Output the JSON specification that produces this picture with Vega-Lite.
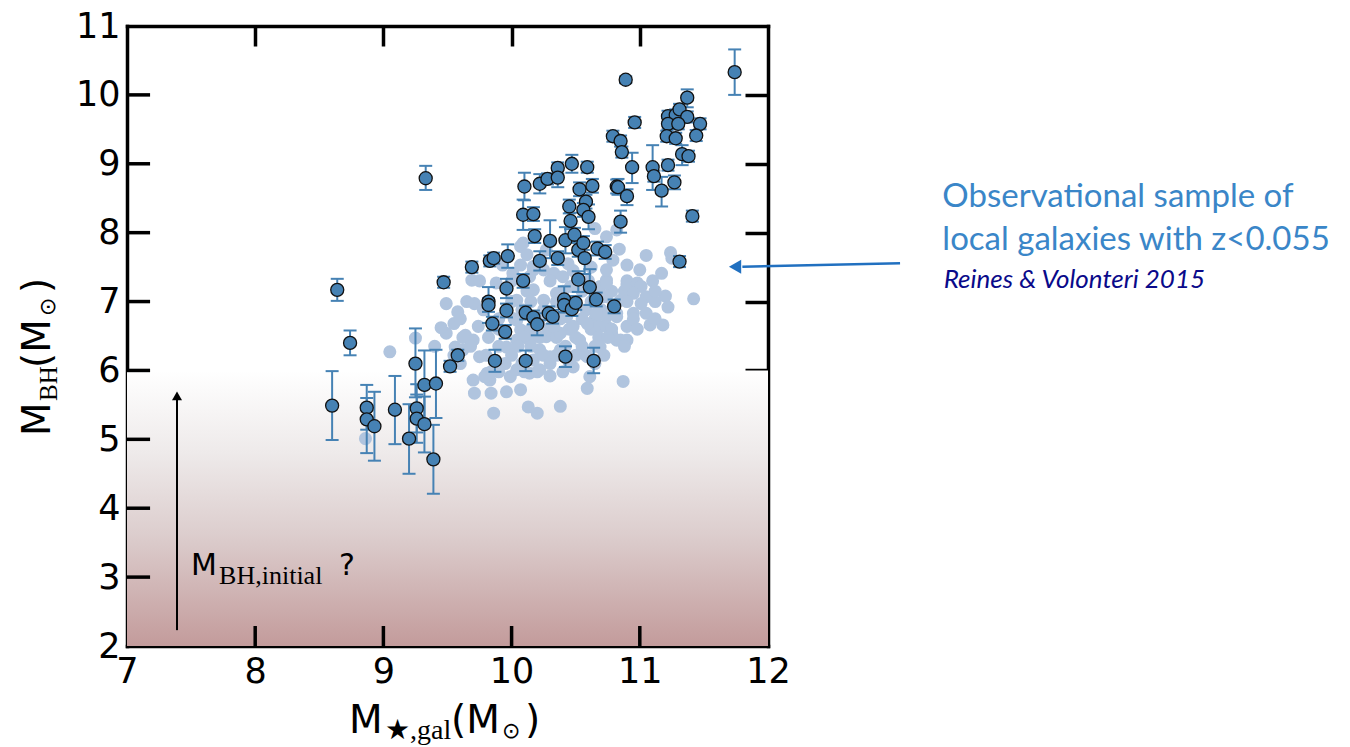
{
"$schema":"https://vega.github.io/schema/vega-lite/v6.json",
"width":641,"height":620,
"autosize":{"type":"none"},
"padding":{"left":127,"top":26,"right":582,"bottom":101},
"background":"white",
"config":{"view":{"stroke":null},"axis":{"grid":false,"title":null,"zindex":1,"domainColor":"black","domainWidth":3.5,"domainCap":"square","tickColor":"black","tickWidth":3.5,"tickOpacity":1,"labelFont":"DejaVu Sans","labelFontSize":35,"labelColor":"black","labelFlush":false,"labelOverlap":false,"format":"d"}},
"datasets":{
"light":[
{"x":9.05,"y":6.27},{"x":9.25,"y":6.47},{"x":8.86,"y":5.01},{"x":9.49,"y":6.97},{"x":9.58,"y":6.85},{"x":9.55,"y":6.68},{"x":9.49,"y":6.54},{"x":9.64,"y":6.51},{"x":9.71,"y":6.97},{"x":9.74,"y":6.64},{"x":9.70,"y":6.44},{"x":9.56,"y":6.34},{"x":9.75,"y":6.20},{"x":9.70,"y":5.86},{"x":9.71,"y":5.67},{"x":9.84,"y":5.67},{"x":9.86,"y":5.38},{"x":9.69,"y":7.31},{"x":9.62,"y":6.30},{"x":9.45,"y":6.62},{"x":9.40,"y":6.35},{"x":9.80,"y":6.22},{"x":9.81,"y":5.96},{"x":9.83,"y":5.86},{"x":9.65,"y":7.00},{"x":9.78,"y":6.88},{"x":9.60,"y":6.75},{"x":9.62,"y":6.48},{"x":9.82,"y":6.48},{"x":9.68,"y":6.35},{"x":9.55,"y":6.22},{"x":9.60,"y":6.10},{"x":9.88,"y":7.27},{"x":9.93,"y":7.53},{"x":9.75,"y":7.30},{"x":9.90,"y":6.60},{"x":9.90,"y":6.35},{"x":9.90,"y":6.75},
{"x":9.96,"y":5.69},{"x":9.99,"y":5.91},{"x":10.07,"y":5.72},{"x":10.13,"y":5.47},{"x":10.20,"y":5.38},{"x":10.22,"y":6.01},{"x":10.14,"y":5.96},{"x":10.04,"y":6.01},{"x":9.96,"y":6.34},{"x":10.04,"y":6.44},{"x":10.07,"y":6.59},{"x":10.17,"y":6.49},{"x":10.27,"y":6.49},{"x":10.22,"y":6.30},{"x":10.30,"y":6.20},{"x":10.17,"y":6.15},{"x":10.25,"y":7.02},{"x":10.17,"y":7.17},{"x":10.04,"y":7.02},{"x":10.04,"y":6.73},{"x":10.09,"y":7.85},{"x":10.07,"y":7.53},{"x":10.17,"y":7.46},{"x":10.07,"y":7.80},{"x":10.12,"y":7.68},{"x":10.17,"y":7.51},{"x":10.01,"y":7.41},{"x":10.14,"y":7.36},{"x":10.27,"y":7.75},{"x":10.25,"y":7.46},{"x":10.00,"y":7.30},{"x":10.12,"y":7.15},{"x":10.00,"y":7.00},{"x":10.15,"y":7.00},{"x":10.08,"y":6.88},{"x":10.25,"y":6.88},{"x":10.02,"y":6.75},{"x":10.22,"y":6.75},{"x":10.15,"y":6.60},{"x":10.28,"y":6.60},{"x":10.10,"y":6.48},{"x":10.22,"y":6.48},{"x":10.05,"y":6.35},{"x":10.15,"y":6.35},{"x":10.00,"y":6.22},{"x":10.25,"y":6.22},{"x":9.95,"y":6.10},{"x":10.08,"y":6.10},{"x":10.30,"y":6.10},{"x":9.90,"y":5.98},{"x":10.10,"y":5.98},{"x":10.20,"y":5.98},{"x":10.30,"y":5.92},{"x":9.84,"y":5.98},{"x":9.79,"y":5.91},
{"x":10.38,"y":5.48},{"x":10.33,"y":7.41},{"x":10.40,"y":7.36},{"x":10.30,"y":7.30},{"x":10.35,"y":7.12},{"x":10.48,"y":7.22},{"x":10.40,"y":7.15},{"x":10.55,"y":7.15},{"x":10.35,"y":7.00},{"x":10.62,"y":7.00},{"x":10.45,"y":6.88},{"x":10.58,"y":6.88},{"x":10.70,"y":6.88},{"x":10.38,"y":6.75},{"x":10.55,"y":6.75},{"x":10.65,"y":6.75},{"x":10.45,"y":6.60},{"x":10.62,"y":6.60},{"x":10.35,"y":6.48},{"x":10.50,"y":6.48},{"x":10.68,"y":6.48},{"x":10.42,"y":6.35},{"x":10.55,"y":6.35},{"x":10.65,"y":6.35},{"x":10.35,"y":6.22},{"x":10.50,"y":6.22},{"x":10.58,"y":6.22},{"x":10.45,"y":6.10},{"x":10.65,"y":6.10},{"x":10.40,"y":5.98},{"x":10.38,"y":6.54},{"x":10.48,"y":6.64},{"x":10.53,"y":6.44},{"x":10.59,"y":6.68},{"x":10.69,"y":6.64},{"x":10.74,"y":6.78},{"x":10.66,"y":6.83},{"x":10.69,"y":6.34},{"x":10.59,"y":6.20},{"x":10.48,"y":6.05},{"x":10.38,"y":6.30},{"x":10.43,"y":6.78},{"x":10.33,"y":6.64},{"x":10.69,"y":7.22},{"x":10.74,"y":7.07},{"x":10.61,"y":5.91},{"x":10.59,"y":5.74},{"x":10.46,"y":7.22},{"x":10.74,"y":7.31},{"x":10.65,"y":8.06},{"x":10.74,"y":7.94},{"x":10.82,"y":8.04},{"x":10.60,"y":7.30},{"x":10.78,"y":7.15},{"x":10.88,"y":7.15},{"x":10.90,"y":7.30},{"x":10.44,"y":7.55},{"x":10.48,"y":7.45},{"x":10.62,"y":7.50},
{"x":10.82,"y":6.44},{"x":10.78,"y":6.54},{"x":10.82,"y":6.78},{"x":10.84,"y":7.76},{"x":11.05,"y":7.67},{"x":11.24,"y":7.71},{"x":11.25,"y":7.63},{"x":11.00,"y":7.46},{"x":11.17,"y":7.41},{"x":10.79,"y":7.60},{"x":10.90,"y":7.53},{"x":10.74,"y":7.46},{"x":10.90,"y":7.24},{"x":10.98,"y":7.27},{"x":11.01,"y":7.22},{"x":11.05,"y":7.07},{"x":10.95,"y":7.12},{"x":11.20,"y":7.08},{"x":11.42,"y":7.04},{"x":11.22,"y":6.92},{"x":11.01,"y":6.97},{"x":11.05,"y":6.83},{"x":10.95,"y":6.83},{"x":11.08,"y":6.66},{"x":11.18,"y":6.66},{"x":10.90,"y":6.64},{"x":10.85,"y":6.44},{"x":10.90,"y":6.44},{"x":10.74,"y":6.64},{"x":10.87,"y":5.84},{"x":10.72,"y":7.07},{"x":10.85,"y":7.02},{"x":10.74,"y":7.27},{"x":10.82,"y":6.83},{"x":10.90,"y":7.00},{"x":11.12,"y":7.00},{"x":10.95,"y":6.75},{"x":11.12,"y":6.75},{"x":10.98,"y":6.60},{"x":10.78,"y":6.60},{"x":10.88,"y":6.35},{"x":10.72,"y":6.22},{"x":10.75,"y":6.48},{"x":11.10,"y":7.30},{"x":11.12,"y":7.15}
],
"dark":[
{"x":8.64,"y":7.17,"lo":7.01,"hi":7.33},{"x":8.74,"y":6.40,"lo":6.22,"hi":6.58},{"x":8.60,"y":5.49,"lo":4.99,"hi":5.99},{"x":8.87,"y":5.46,"lo":5.14,"hi":5.79},{"x":8.87,"y":5.29,"lo":4.80,"hi":5.60},{"x":8.93,"y":5.19,"lo":4.69,"hi":5.69},{"x":9.09,"y":5.43,"lo":4.93,"hi":5.92},{"x":9.20,"y":5.01,"lo":4.50,"hi":5.51},{"x":9.25,"y":6.10,"lo":5.61,"hi":6.61},{"x":9.26,"y":5.45,"lo":5.10,"hi":5.80},{"x":9.26,"y":5.30,"lo":4.95,"hi":5.65},{"x":9.32,"y":5.79,"lo":5.29,"hi":6.29},{"x":9.32,"y":5.22,"lo":4.81,"hi":5.62},{"x":9.41,"y":5.81,"lo":5.31,"hi":6.30},{"x":9.39,"y":4.71,"lo":4.21,"hi":5.21},{"x":9.33,"y":8.79,"lo":8.62,"hi":8.97},{"x":9.47,"y":7.28,"lo":7.20,"hi":7.36},{"x":9.52,"y":6.06,"lo":5.98,"hi":6.14},{"x":9.58,"y":6.22,"lo":6.14,"hi":6.30},
{"x":9.69,"y":7.50,"lo":7.42,"hi":7.58},{"x":9.83,"y":7.59,"lo":7.51,"hi":7.67},{"x":9.86,"y":7.63,"lo":7.55,"hi":7.71},{"x":9.97,"y":7.66,"lo":7.49,"hi":7.83},{"x":9.96,"y":7.19,"lo":7.05,"hi":7.33},{"x":10.09,"y":7.30,"lo":7.20,"hi":7.40},{"x":10.22,"y":7.59,"lo":7.45,"hi":7.73},{"x":10.18,"y":7.95,"lo":7.85,"hi":8.05},{"x":10.10,"y":8.67,"lo":8.47,"hi":8.87},{"x":10.09,"y":8.26,"lo":8.04,"hi":8.48},{"x":10.17,"y":8.27,"lo":8.17,"hi":8.37},{"x":10.22,"y":8.71,"lo":8.57,"hi":8.85},{"x":10.28,"y":8.78,"lo":8.70,"hi":8.86},{"x":10.36,"y":8.94,"lo":8.86,"hi":9.02},{"x":10.36,"y":8.80,"lo":8.66,"hi":8.94},{"x":10.47,"y":9.00,"lo":8.87,"hi":9.13},{"x":10.59,"y":8.95,"lo":8.87,"hi":9.03},{"x":10.30,"y":7.88,"lo":7.63,"hi":8.18},{"x":10.36,"y":7.63,"lo":7.53,"hi":7.73},{"x":10.42,"y":7.89,"lo":7.70,"hi":8.08},{"x":10.45,"y":8.38,"lo":8.28,"hi":8.48},{"x":10.46,"y":8.17,"lo":8.05,"hi":8.29},{"x":10.49,"y":7.97,"lo":7.87,"hi":8.07},{"x":10.53,"y":8.63,"lo":8.53,"hi":8.73},{"x":10.63,"y":8.68,"lo":8.58,"hi":8.78},{"x":10.58,"y":8.45,"lo":8.35,"hi":8.55},{"x":10.56,"y":8.33,"lo":8.23,"hi":8.43},{"x":10.60,"y":8.23,"lo":8.05,"hi":8.41},{"x":10.52,"y":7.75,"lo":7.65,"hi":7.85},{"x":10.56,"y":7.85,"lo":7.75,"hi":7.95},{"x":10.57,"y":7.63,"lo":7.40,"hi":7.86},{"x":10.67,"y":7.77,"lo":7.67,"hi":7.87},{"x":10.73,"y":7.72,"lo":7.62,"hi":7.82},{"x":10.52,"y":7.32,"lo":7.14,"hi":7.44},{"x":10.61,"y":7.21,"lo":6.95,"hi":7.47},{"x":10.82,"y":8.67,"lo":8.57,"hi":8.77},{"x":10.85,"y":8.16,"lo":8.00,"hi":8.32},
{"x":9.82,"y":7.00,"lo":6.69,"hi":7.21},{"x":9.82,"y":6.95,"lo":6.85,"hi":7.05},{"x":9.96,"y":6.87,"lo":6.77,"hi":6.97},{"x":9.85,"y":6.68,"lo":6.58,"hi":6.78},{"x":9.95,"y":6.56,"lo":6.46,"hi":6.66},{"x":10.11,"y":6.84,"lo":6.74,"hi":6.94},{"x":10.17,"y":6.77,"lo":6.67,"hi":6.87},{"x":10.20,"y":6.67,"lo":6.51,"hi":6.83},{"x":10.29,"y":6.83,"lo":6.73,"hi":6.93},{"x":10.32,"y":6.78,"lo":6.68,"hi":6.88},{"x":10.41,"y":7.03,"lo":6.84,"hi":7.22},{"x":10.41,"y":6.95,"lo":6.85,"hi":7.05},{"x":10.47,"y":6.89,"lo":6.79,"hi":6.99},{"x":10.50,"y":6.98,"lo":6.88,"hi":7.08},{"x":10.66,"y":7.03,"lo":6.93,"hi":7.13},{"x":10.80,"y":6.93,"lo":6.83,"hi":7.03},{"x":9.87,"y":6.14,"lo":5.98,"hi":6.30},{"x":10.11,"y":6.14,"lo":5.99,"hi":6.29},{"x":10.42,"y":6.20,"lo":6.05,"hi":6.35},{"x":10.64,"y":6.14,"lo":5.96,"hi":6.33},
{"x":10.89,"y":10.22,"lo":10.17,"hi":10.27},{"x":11.74,"y":10.33,"lo":10.00,"hi":10.66},{"x":11.37,"y":9.96,"lo":9.82,"hi":10.08},{"x":10.96,"y":9.60,"lo":9.52,"hi":9.68},{"x":10.79,"y":9.40,"lo":9.32,"hi":9.48},{"x":10.85,"y":9.33,"lo":9.25,"hi":9.41},{"x":10.86,"y":9.17,"lo":9.09,"hi":9.25},{"x":10.94,"y":8.95,"lo":8.72,"hi":9.16},{"x":10.83,"y":8.66,"lo":8.55,"hi":8.78},{"x":10.90,"y":8.53,"lo":8.40,"hi":8.63},{"x":11.10,"y":8.95,"lo":8.62,"hi":9.27},{"x":11.11,"y":8.82,"lo":8.74,"hi":8.90},{"x":11.17,"y":8.61,"lo":8.38,"hi":8.81},{"x":11.22,"y":8.98,"lo":8.90,"hi":9.06},{"x":11.27,"y":8.73,"lo":8.63,"hi":8.83},{"x":11.41,"y":8.24,"lo":8.16,"hi":8.32},{"x":11.22,"y":9.69,"lo":9.61,"hi":9.77},{"x":11.28,"y":9.71,"lo":9.63,"hi":9.79},{"x":11.31,"y":9.79,"lo":9.71,"hi":9.87},{"x":11.37,"y":9.68,"lo":9.60,"hi":9.76},{"x":11.22,"y":9.58,"lo":9.50,"hi":9.66},{"x":11.30,"y":9.58,"lo":9.50,"hi":9.66},{"x":11.47,"y":9.58,"lo":9.50,"hi":9.66},{"x":11.21,"y":9.40,"lo":9.32,"hi":9.48},{"x":11.28,"y":9.37,"lo":9.29,"hi":9.45},{"x":11.44,"y":9.41,"lo":9.33,"hi":9.49},{"x":11.33,"y":9.14,"lo":8.98,"hi":9.27},{"x":11.38,"y":9.11,"lo":9.03,"hi":9.19},{"x":11.31,"y":7.58,"lo":7.50,"hi":7.66}
]
},
"resolve":{"axis":{"x":"independent","y":"independent"}},
"layer":[
{"layer":[
{"data":{"values":[{}]},"mark":{"type":"rect","fill":{"gradient":"linear","x1":0,"y1":0,"x2":0,"y2":1,"stops":[{"offset":0,"color":"#ffffff"},{"offset":0.3,"color":"#eeeaea"},{"offset":0.6,"color":"#dccdcd"},{"offset":1,"color":"#c39b9b"}]}},
 "encoding":{"x":{"datum":7,"type":"quantitative","scale":{"domain":[7,12],"nice":false,"zero":false},"axis":null},"x2":{"datum":12},"y":{"datum":6,"type":"quantitative","scale":{"domain":[2,11],"nice":false,"zero":false},"axis":null},"y2":{"datum":2}}},
{"data":{"values":[{"t":8},{"t":9},{"t":10},{"t":11}]},"mark":{"type":"rule","color":"black","strokeWidth":3.5},"encoding":{"x":{"field":"t","type":"quantitative","axis":null},"y":{"datum":2,"axis":null},"y2":{"datum":2.29}}},
{"data":{"values":[{"t":3},{"t":4},{"t":5},{"t":6},{"t":7},{"t":8},{"t":9},{"t":10}]},"mark":{"type":"rule","color":"black","strokeWidth":3.5},"encoding":{"y":{"field":"t","type":"quantitative","axis":null},"x":{"datum":7,"axis":null},"x2":{"datum":7.18}}},
{"data":{"name":"light"},"mark":{"type":"point","filled":true,"color":"#b0c4de","size":170,"opacity":1},"encoding":{"x":{"field":"x","type":"quantitative","axis":null},"y":{"field":"y","type":"quantitative","axis":null}}},
{"data":{"name":"dark"},"mark":{"type":"rule","color":"#4682b4","strokeWidth":2},"encoding":{"x":{"field":"x","type":"quantitative","axis":null},"y":{"field":"lo","type":"quantitative","axis":null},"y2":{"field":"hi"}}},
{"data":{"name":"dark"},"mark":{"type":"tick","orient":"horizontal","color":"#4682b4","size":13,"thickness":2,"opacity":1},"encoding":{"x":{"field":"x","type":"quantitative","axis":null},"y":{"field":"lo","type":"quantitative","axis":null}}},
{"data":{"name":"dark"},"mark":{"type":"tick","orient":"horizontal","color":"#4682b4","size":13,"thickness":2,"opacity":1},"encoding":{"x":{"field":"x","type":"quantitative","axis":null},"y":{"field":"hi","type":"quantitative","axis":null}}},
{"data":{"name":"dark"},"mark":{"type":"point","filled":true,"fill":"#4682b4","stroke":"#111111","strokeWidth":1.3,"size":170,"opacity":1},"encoding":{"x":{"field":"x","type":"quantitative","axis":null},"y":{"field":"y","type":"quantitative","axis":null}}},
{"data":{"values":[{}]},"mark":{"type":"rule","color":"black","strokeWidth":2},"encoding":{"x":{"datum":7.39,"axis":null},"y":{"datum":2.23,"axis":null},"y2":{"datum":5.6}}},
{"data":{"values":[{}]},"mark":{"type":"point","shape":"triangle-up","filled":true,"color":"black","size":100,"opacity":1},"encoding":{"x":{"datum":7.39,"axis":null},"y":{"datum":5.63,"axis":null}}},
{"data":{"values":[{}]},"mark":{"type":"text","text":"M","font":"DejaVu Sans","fontSize":30,"align":"left","baseline":"alphabetic","color":"black"},"encoding":{"x":{"datum":7.5,"axis":null},"y":{"datum":3.03,"axis":null}}},
{"data":{"values":[{}]},"mark":{"type":"text","text":"BH,initial","font":"Liberation Serif","fontSize":26,"align":"left","baseline":"alphabetic","color":"black","dx":28,"dy":9},"encoding":{"x":{"datum":7.5,"axis":null},"y":{"datum":3.03,"axis":null}}},
{"data":{"values":[{}]},"mark":{"type":"text","text":"?","font":"DejaVu Sans","fontSize":30,"align":"left","baseline":"alphabetic","color":"black","dx":148},"encoding":{"x":{"datum":7.5,"axis":null},"y":{"datum":3.03,"axis":null}}},
{"data":{"values":[{}]},"mark":{"type":"rule","color":"#2170c0","strokeWidth":2.5},"encoding":{"x":{"datum":13.03,"axis":null},"y":{"datum":7.556,"axis":null},"x2":{"datum":11.8},"y2":{"datum":7.507}}},
{"data":{"values":[{}]},"mark":{"type":"point","shape":"triangle-left","filled":true,"color":"#2170c0","size":200,"opacity":1},"encoding":{"x":{"datum":11.743,"axis":null},"y":{"datum":7.505,"axis":null}}},
{"data":{"values":[{}]},"mark":{"type":"text","text":"Observational sample of","font":"Lato","fontSize":33,"align":"left","baseline":"alphabetic","color":"#3a86c8"},"encoding":{"x":{"datum":13.36,"axis":null},"y":{"datum":8.372,"axis":null}}},
{"data":{"values":[{}]},"mark":{"type":"text","text":"local galaxies with z<0.055","font":"Lato","fontSize":33,"align":"left","baseline":"alphabetic","color":"#3a86c8"},"encoding":{"x":{"datum":13.36,"axis":null},"y":{"datum":7.747,"axis":null}}},
{"data":{"values":[{}]},"mark":{"type":"text","text":"Reines & Volonteri 2015","font":"Lato","fontStyle":"italic","fontSize":26,"align":"left","baseline":"alphabetic","color":"#0a0a8a"},"encoding":{"x":{"datum":13.37,"axis":null},"y":{"datum":7.196,"axis":null}}},
{"data":{"values":[{}]},"mark":{"type":"text","text":"M","font":"DejaVu Sans","fontSize":39,"align":"left","baseline":"alphabetic","color":"black","dx":222,"dy":87},"encoding":{"x":{"datum":7,"axis":null},"y":{"datum":2,"axis":null}}},
{"data":{"values":[{}]},"mark":{"type":"text","text":"★,gal","font":"Liberation Serif","fontSize":28,"align":"left","baseline":"alphabetic","color":"black","dx":258,"dy":93},"encoding":{"x":{"datum":7,"axis":null},"y":{"datum":2,"axis":null}}},
{"data":{"values":[{}]},"mark":{"type":"text","text":"(M","font":"DejaVu Sans","fontSize":39,"align":"left","baseline":"alphabetic","color":"black","dx":324,"dy":87},"encoding":{"x":{"datum":7,"axis":null},"y":{"datum":2,"axis":null}}},
{"data":{"values":[{}]},"mark":{"type":"text","text":"⊙","font":"DejaVu Sans","fontSize":22,"align":"left","baseline":"alphabetic","color":"black","dx":375,"dy":92},"encoding":{"x":{"datum":7,"axis":null},"y":{"datum":2,"axis":null}}},
{"data":{"values":[{}]},"mark":{"type":"text","text":")","font":"DejaVu Sans","fontSize":39,"align":"left","baseline":"alphabetic","color":"black","dx":398,"dy":87},"encoding":{"x":{"datum":7,"axis":null},"y":{"datum":2,"axis":null}}},
{"data":{"values":[{}]},"mark":{"type":"text","text":"M","font":"DejaVu Sans","fontSize":39,"align":"left","baseline":"alphabetic","color":"black","angle":270,"dx":0,"dy":-77},"encoding":{"x":{"datum":7,"axis":null},"y":{"datum":5.05,"axis":null}}},
{"data":{"values":[{}]},"mark":{"type":"text","text":"BH","font":"Liberation Serif","fontSize":25,"align":"left","baseline":"alphabetic","color":"black","angle":270,"dx":35,"dy":-70},"encoding":{"x":{"datum":7,"axis":null},"y":{"datum":5.05,"axis":null}}},
{"data":{"values":[{}]},"mark":{"type":"text","text":"(M","font":"DejaVu Sans","fontSize":39,"align":"left","baseline":"alphabetic","color":"black","angle":270,"dx":68,"dy":-77},"encoding":{"x":{"datum":7,"axis":null},"y":{"datum":5.05,"axis":null}}},
{"data":{"values":[{}]},"mark":{"type":"text","text":"⊙","font":"DejaVu Sans","fontSize":22,"align":"left","baseline":"alphabetic","color":"black","angle":270,"dx":120,"dy":-72},"encoding":{"x":{"datum":7,"axis":null},"y":{"datum":5.05,"axis":null}}},
{"data":{"values":[{}]},"mark":{"type":"text","text":")","font":"DejaVu Sans","fontSize":39,"align":"left","baseline":"alphabetic","color":"black","angle":270,"dx":143,"dy":-77},"encoding":{"x":{"datum":7,"axis":null},"y":{"datum":5.05,"axis":null}}}
]},
{"data":{"values":[{}]},"mark":{"type":"point","opacity":0},"encoding":{"x":{"datum":7,"type":"quantitative","scale":{"domain":[7,12],"nice":false,"zero":false},"axis":{"orient":"bottom","values":[7,8,9,10,11,12],"ticks":false,"labelPadding":8}},"y":{"datum":2,"type":"quantitative","scale":{"domain":[2,11],"nice":false,"zero":false},"axis":{"orient":"left","values":[2,3,4,5,6,7,8,9,10,11],"ticks":false,"labelPadding":7}}}},
{"data":{"values":[{}]},"mark":{"type":"point","opacity":0},"encoding":{"x":{"datum":7,"type":"quantitative","scale":{"domain":[7,12],"nice":false,"zero":false},"axis":{"orient":"top","values":[8,9,10,11],"labels":false,"tickSize":-20}},"y":{"datum":2,"type":"quantitative","scale":{"domain":[2,11],"nice":false,"zero":false},"axis":{"orient":"right","values":[3,4,5,6,7,8,9,10],"labels":false,"tickSize":-23}}}}
]
}
